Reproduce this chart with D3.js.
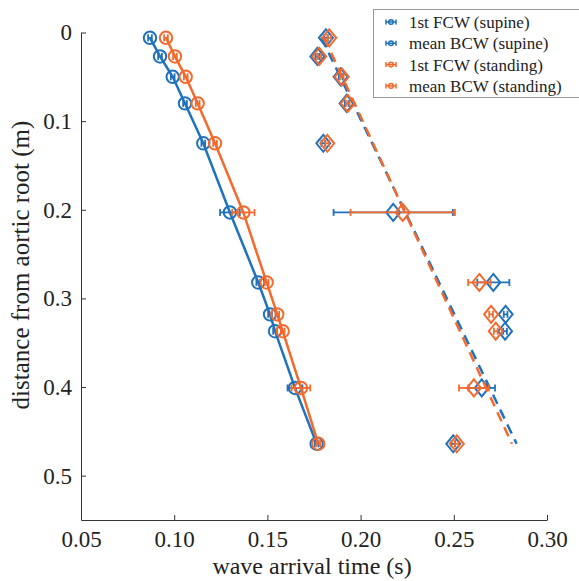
<!DOCTYPE html>
<html>
<head>
<meta charset="utf-8">
<script src="https://cdn.jsdelivr.net/npm/d3@7"></script>
<style>
  body { margin: 0; background: #fff; }
  svg { display: block; font-family: "Liberation Serif", serif; }
  .axis path, .axis line { stroke: #333; }
</style>
</head>
<body>
<svg id="chart" width="579" height="581"></svg>
<script>
// distances along the aorta (m)
var distances = [0.006, 0.027, 0.050, 0.080, 0.125, 0.203, 0.282, 0.318, 0.337, 0.401, 0.464];

// arrival times (s), supine
var fcwSupine    = [0.0870, 0.0924, 0.0992, 0.1058, 0.1156, 0.1299, 0.1451, 0.1514, 0.1541, 0.1648, 0.1764];
var fcwSupineErr = [0.0010, 0.0010, 0.0010, 0.0010, 0.0010, 0.0053, 0.0010, 0.0010, 0.0010, 0.0040, 0.0010];
var bcwSupine    = [0.1814, 0.1768, 0.1893, 0.1925, 0.1800, 0.2175, 0.2712, 0.2778, 0.2775, 0.2650, 0.2497];
var bcwSupineErr = [0.0010, 0.0010, 0.0010, 0.0010, 0.0010, 0.0320, 0.0086, 0.0010, 0.0010, 0.0071, 0.0010];

// arrival times (s), standing
var fcwStanding    = [0.0956, 0.1004, 0.1062, 0.1126, 0.1219, 0.1371, 0.1496, 0.1553, 0.1582, 0.1680, 0.1773];
var fcwStandingErr = [0.0010, 0.0010, 0.0010, 0.0010, 0.0010, 0.0060, 0.0010, 0.0010, 0.0010, 0.0050, 0.0010];
var bcwStanding    = [0.1832, 0.1778, 0.1899, 0.1931, 0.1821, 0.2226, 0.2637, 0.2700, 0.2725, 0.2608, 0.2516];
var bcwStandingErr = [0.0010, 0.0010, 0.0010, 0.0010, 0.0010, 0.0280, 0.0060, 0.0010, 0.0010, 0.0080, 0.0010];

// BCW fit lines: times at first and last distance
var fitDistances   = [0.006, 0.464];
var bcwFitSupine   = [0.1790, 0.2837];
var bcwFitStanding = [0.1805, 0.2812];

var xTicks = [0.05, 0.10, 0.15, 0.20, 0.25, 0.30];
var yTicks = [0, 0.1, 0.2, 0.3, 0.4, 0.5];

var legendLabels = ["1st FCW (supine)", "mean BCW (supine)", "1st FCW (standing)", "mean BCW (standing)"];

var blue = "#1f72bb", orange = "#f4692c";

var svg = d3.select("#chart");
var margin = { top: 32.5, left: 81, right: 32, bottom: 61 },
	width = 579 - margin.left - margin.right,
	height = 581 - margin.top - margin.bottom;

var x = d3.scaleLinear().domain([0.05, 0.30]).range([margin.left, margin.left + width]);
var y = d3.scaleLinear().domain([0, 0.55]).range([margin.top, margin.top + height]);

function styleAxis(g) {
	g.selectAll("text")
		.style("font-family", "Liberation Serif")
		.style("font-size", "23px")
		.style("fill", "#222");
}

// axes
svg.append("g")
	.attr("class", "axis")
	.attr("transform", "translate(0," + (margin.top + height) + ")")
	.call(d3.axisBottom(x).tickValues(xTicks).tickFormat(d3.format(".2f"))
		.tickSizeInner(-5).tickSizeOuter(0).tickPadding(11))
	.call(styleAxis);

svg.append("g")
	.attr("class", "axis")
	.attr("transform", "translate(" + margin.left + ",0)")
	.call(d3.axisLeft(y).tickValues(yTicks)
		.tickFormat(function (d) { return d === 0 ? "0" : d3.format(".1f")(d); })
		.tickSizeInner(-5).tickSizeOuter(0).tickPadding(9))
	.call(styleAxis);

svg.append("text")
	.attr("x", margin.left + width / 2 - 2)
	.attr("y", 574)
	.attr("text-anchor", "middle")
	.style("font-size", "24px")
	.style("fill", "#222")
	.text("wave arrival time (s)");

svg.append("text")
	.attr("transform", "translate(29," + 265 + ") rotate(-90)")
	.attr("text-anchor", "middle")
	.style("font-size", "25px")
	.style("fill", "#222")
	.text("distance from aortic root (m)");

var line = d3.line();

function drawErrorBars(g, times, errs, color) {
	var rows = distances.map(function (d, i) { return { d: d, t: times[i], e: errs[i] }; });
	var eb = g.append("g").selectAll("g").data(rows).enter().append("g")
		.attr("stroke", color).attr("stroke-width", 1.8).attr("fill", "none");
	eb.append("line")
		.attr("x1", function (r) { return x(r.t - r.e); })
		.attr("x2", function (r) { return x(r.t + r.e); })
		.attr("y1", function (r) { return y(r.d); })
		.attr("y2", function (r) { return y(r.d); });
	eb.append("line")
		.attr("x1", function (r) { return x(r.t - r.e); })
		.attr("x2", function (r) { return x(r.t - r.e); })
		.attr("y1", function (r) { return y(r.d) - 3.5; })
		.attr("y2", function (r) { return y(r.d) + 3.5; });
	eb.append("line")
		.attr("x1", function (r) { return x(r.t + r.e); })
		.attr("x2", function (r) { return x(r.t + r.e); })
		.attr("y1", function (r) { return y(r.d) - 3.5; })
		.attr("y2", function (r) { return y(r.d) + 3.5; });
}

function drawFcw(times, errs, color) {
	var g = svg.append("g");
	g.append("path")
		.attr("d", line(distances.map(function (d, i) { return [x(times[i]), y(d)]; })))
		.attr("fill", "none").attr("stroke", color).attr("stroke-width", 2.5);
	drawErrorBars(g, times, errs, color);
	g.append("g").selectAll("circle").data(distances).enter().append("circle")
		.attr("cx", function (d, i) { return x(times[i]); })
		.attr("cy", function (d) { return y(d); })
		.attr("r", 6.2)
		.attr("fill", "none").attr("stroke", color).attr("stroke-width", 2);
}

function drawBcw(times, errs, fit, color) {
	var g = svg.append("g");
	drawErrorBars(g, times, errs, color);
	g.append("g").selectAll("path").data(distances).enter().append("path")
		.attr("d", function (d, i) {
			var cx = x(times[i]), cy = y(d);
			return "M" + cx + "," + (cy - 8.5) + "L" + (cx + 7) + "," + cy +
				"L" + cx + "," + (cy + 8.5) + "L" + (cx - 7) + "," + cy + "Z";
		})
		.attr("fill", "none").attr("stroke", color).attr("stroke-width", 2);
	g.append("path")
		.attr("d", line(fitDistances.map(function (d, i) { return [x(fit[i]), y(d)]; })))
		.attr("fill", "none").attr("stroke", color).attr("stroke-width", 2.5)
		.attr("stroke-dasharray", "10,6.5");
}

drawFcw(fcwSupine, fcwSupineErr, blue);
drawBcw(bcwSupine, bcwSupineErr, bcwFitSupine, blue);
drawFcw(fcwStanding, fcwStandingErr, orange);
drawBcw(bcwStanding, bcwStandingErr, bcwFitStanding, orange);

// legend
var legend = svg.append("g");
legend.append("rect")
	.attr("x", 373.5).attr("y", 9.5).attr("width", 220).attr("height", 88)
	.attr("fill", "#fff").attr("stroke", "#999").attr("stroke-width", 1);

var items = legend.selectAll("g.item").data(legendLabels).enter().append("g")
	.attr("class", "item")
	.attr("transform", function (d, i) { return "translate(391," + (22 + i * 21.3) + ")"; });
items.each(function (d, i) {
	var c = i < 2 ? blue : orange;
	var it = d3.select(this);
	it.append("line").attr("x1", -5).attr("x2", 5).attr("y1", 0).attr("y2", 0)
		.attr("stroke", c).attr("stroke-width", 1.5);
	it.append("line").attr("x1", -5).attr("x2", -5).attr("y1", -2.5).attr("y2", 2.5)
		.attr("stroke", c).attr("stroke-width", 1.5);
	it.append("line").attr("x1", 5).attr("x2", 5).attr("y1", -2.5).attr("y2", 2.5)
		.attr("stroke", c).attr("stroke-width", 1.5);
	it.append("circle").attr("r", 2.3).attr("fill", "none")
		.attr("stroke", c).attr("stroke-width", 1.5);
});
items.append("text")
	.attr("x", 18).attr("y", 6)
	.style("font-size", "17px")
	.style("fill", "#222")
	.text(function (d) { return d; });
</script>
</body>
</html>
